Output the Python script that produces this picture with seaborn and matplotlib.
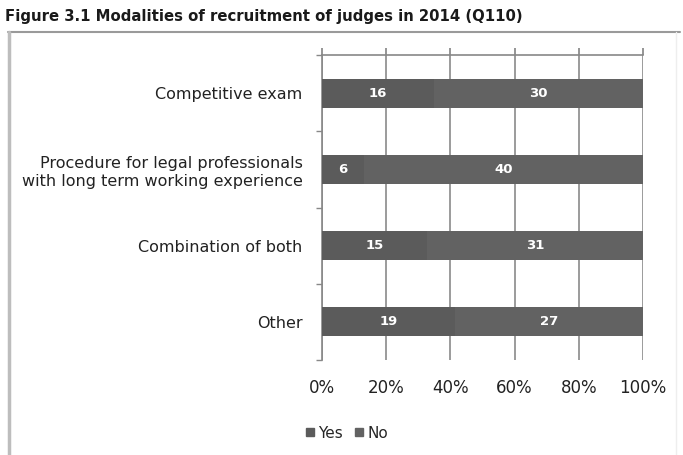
import matplotlib
matplotlib.use("Agg")
import matplotlib.pyplot as plt
import seaborn as sns
import pandas as pd
from matplotlib.lines import Line2D
from matplotlib.ticker import FixedLocator

categories = ["Competitive exam",
              "Procedure for legal professionals\nwith long term working experience",
              "Combination of both",
              "Other"]
yes_counts = [16, 6, 15, 19]
no_counts = [30, 40, 31, 27]
x_ticks = [0, 20, 40, 60, 80, 100]
x_tick_labels = ["0%", "20%", "40%", "60%", "80%", "100%"]
title = "Figure 3.1 Modalities of recruitment of judges in 2014 (Q110)"

sns.set_theme(style="white")
plt.rcParams['font.family'] = ['DejaVu Sans']

totals = [y + n for y, n in zip(yes_counts, no_counts)]
df = pd.DataFrame({
    "cat": categories,
    "yes_pct": [y / t * 100 for y, t in zip(yes_counts, totals)],
    "total_pct": [100.0 for _ in totals],
})

yes_color = "#5b5b5b"
no_color = "#626262"

fig = plt.figure(figsize=(6.83, 4.55), dpi=100)
ax = fig.add_axes([322 / 683, 1 - 360 / 455, 321 / 683, 305 / 455])

sns.barplot(data=df, y="cat", x="total_pct", color=no_color, orient="h",
            width=0.38, ax=ax, label="No", saturation=1, zorder=3, linewidth=0)
sns.barplot(data=df, y="cat", x="yes_pct", color=yes_color, orient="h",
            width=0.38, ax=ax, label="Yes", saturation=1, zorder=3, linewidth=0)

# value labels
for i, (y, n) in enumerate(zip(yes_counts, no_counts)):
    yp = df["yes_pct"][i]
    ax.text(yp / 2, i, str(y), ha="center", va="center", color="white",
            fontsize=9.5, fontweight="bold", zorder=5)
    ax.text(yp + (100 - yp) / 2, i, str(n), ha="center", va="center",
            color="white", fontsize=9.5, fontweight="bold", zorder=5)

ax.set_xlim(0, 100)
ax.set_ylim(3.5, -0.5)
ax.set_xticks(x_ticks)
ax.set_xticklabels(x_tick_labels, fontsize=12, color="#222222")
ax.set_xlabel("")
ax.set_ylabel("")
ax.set_yticks(range(len(categories)))
ax.set_yticklabels(categories, fontsize=11.5, color="#222222", linespacing=1.3)
ax.yaxis.set_minor_locator(FixedLocator([-0.5, 0.5, 1.5, 2.5, 3.5]))
ax.tick_params(axis="y", which="major", length=0, pad=14)
ax.tick_params(axis="y", which="minor", length=4, color="#888888", width=1, left=True)
ax.tick_params(axis="x", which="major", pad=9, bottom=False, top=True,
               length=5, color="#888888", labeltop=False)

ax.grid(axis="x", color="#8a8a8a", linewidth=1.2, zorder=0)
ax.set_axisbelow(True)
for side in ["right", "bottom"]:
    ax.spines[side].set_visible(False)
ax.spines["left"].set_color("#888888")
ax.spines["left"].set_linewidth(1.2)
ax.spines["top"].set_color("#888888")
ax.spines["top"].set_linewidth(1.2)

# legend
handles = [plt.Rectangle((0, 0), 1, 1, color=yes_color),
           plt.Rectangle((0, 0), 1, 1, color=no_color)]
fig.legend(handles, ["Yes", "No"], loc="center left",
           bbox_to_anchor=(300 / 683, 1 - 433 / 455), ncol=2, frameon=False,
           fontsize=11, handlelength=0.5, handleheight=0.5, handletextpad=0.3,
           columnspacing=0.8, borderaxespad=0)
if ax.get_legend() is not None:
    ax.get_legend().remove()

# title and frame
fig.text(5 / 683, 1 - 17 / 455, title, fontsize=10.75, fontweight="bold",
         ha="left", va="center", color="#1a1a1a")
fig.add_artist(Line2D([0.012, 0.995], [1 - 32 / 455, 1 - 32 / 455],
                      color="#9a9a9a", linewidth=1.5, transform=fig.transFigure))
fig.add_artist(Line2D([0.013, 0.013], [0, 1 - 32 / 455],
                      color="#bdbdbd", linewidth=2.5, transform=fig.transFigure))
fig.add_artist(Line2D([0.99, 0.99], [0, 1 - 32 / 455],
                      color="#eeeeee", linewidth=1, transform=fig.transFigure))

fig.savefig("out.png", dpi=100)
